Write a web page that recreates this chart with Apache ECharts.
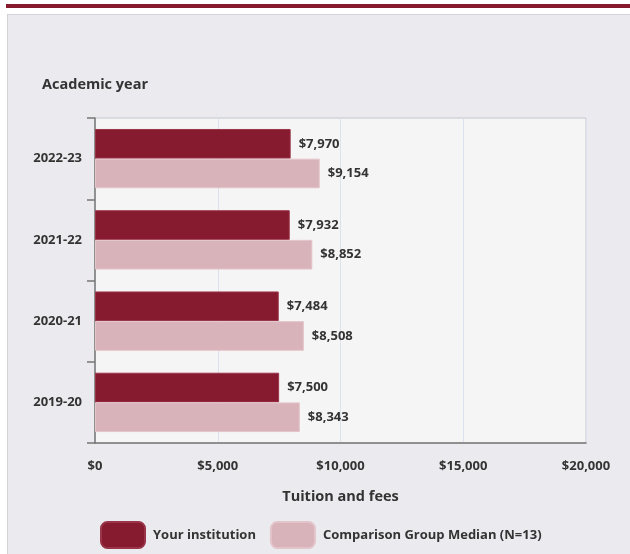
<!DOCTYPE html>
<html>
<head>
<meta charset="utf-8">
<script src="https://cdn.jsdelivr.net/npm/echarts@6/dist/echarts.min.js"></script>
<style>
html,body{margin:0;padding:0;background:#ffffff;}
#topbar{position:absolute;left:6px;top:4px;width:624px;height:4px;background:#861a2e;}
#panel{position:absolute;left:7px;top:14px;width:640px;height:560px;background:#ebebef;border:1px solid #d4d4d8;}
#chart{position:absolute;left:0;top:0;width:630px;height:554px;}
</style>
</head>
<body>
<div id="topbar"></div>
<div id="panel"></div>
<div id="chart"></div>
<script>
const categories = ['2022-23', '2021-22', '2020-21', '2019-20'];
const yourInstitution = [7970, 7932, 7484, 7500];
const comparisonMedian = [9154, 8852, 8508, 8343];
const xTicks = [0, 5000, 10000, 15000, 20000];
const seriesNames = ['Your institution', 'Comparison Group Median (N=13)'];

const fmt = v => '$' + v.toLocaleString('en-US');
const font = '"Open Sans", "Noto Sans", sans-serif';
const lblSize = 13;

const chart = echarts.init(document.getElementById('chart'));
chart.setOption({
  animation: false,
  backgroundColor: 'transparent',
  textStyle: { fontFamily: font },
  graphic: [{
    type: 'text', left: 42, top: 77,
    style: { text: 'Academic year', fontFamily: font, fontSize: 14.5, fontWeight: 'bold', fill: '#333' }
  }],
  legend: {
    left: 95, top: 516,
    itemWidth: 44, itemHeight: 26, itemGap: 14,
    icon: 'roundRect',
    textStyle: { fontFamily: font, fontSize: lblSize, fontWeight: 'bold', color: '#333', padding: [0, 0, 0, 3] },
    data: seriesNames
  },
  grid: {
    left: 95, top: 118, width: 491, height: 325,
    show: true, backgroundColor: '#f5f5f5', borderColor: '#c4c6cc', borderWidth: 1
  },
  xAxis: {
    type: 'value', min: xTicks[0], max: xTicks[xTicks.length - 1], interval: 5000,
    name: 'Tuition and fees', nameLocation: 'middle', nameGap: 46,
    nameTextStyle: { fontFamily: font, fontSize: 14.5, fontWeight: 'bold', color: '#333' },
    axisLine: { show: true, lineStyle: { color: '#777', width: 1.5 } },
    axisTick: { show: false },
    axisLabel: { formatter: v => fmt(v), fontFamily: font, fontSize: lblSize, fontWeight: 'bold', color: '#333', margin: 17 },
    splitLine: { show: true, lineStyle: { color: '#dbe1ee', width: 1 } }
  },
  yAxis: {
    type: 'category', data: categories, inverse: true,
    axisLine: { show: true, lineStyle: { color: '#777', width: 1.5 } },
    axisTick: { show: true, length: 8, lineStyle: { color: '#777', width: 1.5 } },
    axisLabel: { fontFamily: font, fontSize: lblSize, fontWeight: 'bold', color: '#333', margin: 13, padding: [2, 0, 0, 0] },
    splitLine: { show: false }
  },
  series: [
    {
      name: seriesNames[0], type: 'bar', data: yourInstitution,
      barGap: '0%', barCategoryGap: '27%',
      itemStyle: { color: '#861a2e', borderColor: '#9a3448', borderWidth: 1 },
      label: { show: true, position: 'right', distance: 8, formatter: p => fmt(p.value),
        fontFamily: font, fontSize: lblSize, fontWeight: 'bold', color: '#333' }
    },
    {
      name: seriesNames[1], type: 'bar', data: comparisonMedian,
      barGap: '0%', barCategoryGap: '27%',
      itemStyle: { color: '#d9b3ba', borderColor: '#e3c4ca', borderWidth: 1 },
      label: { show: true, position: 'right', distance: 8, formatter: p => fmt(p.value),
        fontFamily: font, fontSize: lblSize, fontWeight: 'bold', color: '#333' }
    }
  ]
});
</script>
</body>
</html>
